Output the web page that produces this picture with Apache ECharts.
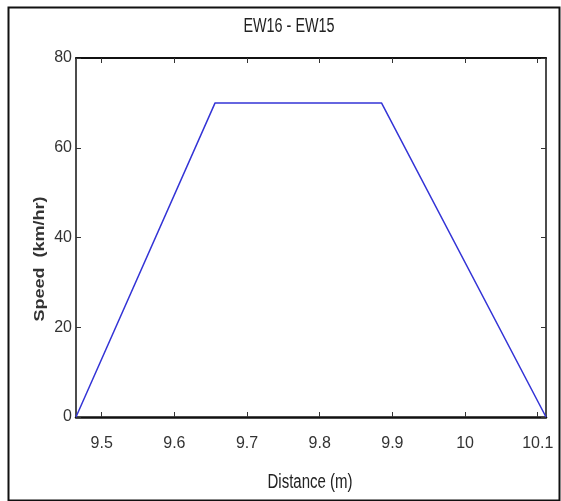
<!DOCTYPE html>
<html>
<head>
<meta charset="utf-8">
<script src="https://cdn.jsdelivr.net/npm/echarts@6/dist/echarts.min.js"></script>
<style>
  html, body { margin: 0; padding: 0; background: #fff; }
  #chart { width: 561px; height: 501px; }
</style>
</head>
<body>
<div id="chart"></div>
<script>
// Speed profile between stations EW16 and EW15
const distance = [9.4646, 9.656, 9.885, 10.1114];
const speed = [0, 70, 70, 0];
const xTicks = [9.5, 9.6, 9.7, 9.8, 9.9, 10.0, 10.1];
const yTicks = [0, 20, 40, 60, 80];

const xMin = 9.4646, xMax = 10.1114, yMin = 0, yMax = 80;
const FONT = '"Liberation Sans", Arial, sans-serif';

const chart = echarts.init(document.getElementById('chart'), null, { renderer: 'canvas' });

function xAx(pos, showLabels) {
  return {
    type: 'value', position: pos, min: xMin, max: xMax,
    axisLine: { show: true, onZero: false, lineStyle: { color: '#111', width: pos === 'bottom' ? 2.5 : 2 } },
    axisTick: { show: true, inside: true, length: 5, customValues: xTicks, lineStyle: { color: '#333', width: 1 } },
    axisLabel: {
      show: showLabels, customValues: xTicks, margin: 19,
      color: '#333', fontFamily: FONT, fontSize: 16,
      formatter: v => String(Math.round(v * 10) / 10)
    },
    splitLine: { show: false }
  };
}
function yAx(pos, showLabels) {
  return {
    type: 'value', position: pos, min: yMin, max: yMax,
    axisLine: { show: true, onZero: false, lineStyle: { color: '#111', width: 1.5 } },
    axisTick: { show: true, inside: true, length: 5, customValues: yTicks, lineStyle: { color: '#333', width: 1 } },
    axisLabel: {
      show: showLabels, customValues: yTicks, margin: 4,
      color: '#333', fontFamily: FONT, fontSize: 16
    },
    splitLine: { show: false }
  };
}

chart.setOption({
  animation: false,
  backgroundColor: '#fff',
  grid: { left: 76, top: 58, right: 15, bottom: 84, containLabel: false },
  xAxis: [xAx('bottom', true), xAx('top', false)],
  yAxis: [yAx('left', true), yAx('right', false)],
  series: [{
    type: 'line',
    xAxisIndex: 0, yAxisIndex: 0,
    data: distance.map((d, i) => [d, speed[i]]),
    symbol: 'none',
    lineStyle: { color: '#3434d6', width: 1.5 }
  }],
  graphic: [
    {
      type: 'rect', left: 6, top: 5, silent: true,
      shape: { width: 551, height: 493 },
      style: { fill: 'none', stroke: '#111', lineWidth: 2 }
    },
    {
      type: 'text', x: 289, y: 26, scaleX: 0.72,
      style: { text: 'EW16 - EW15', fill: '#222', font: '20px ' + FONT, align: 'center', verticalAlign: 'middle' }
    },
    {
      type: 'text', x: 310, y: 482, scaleX: 0.75,
      style: { text: 'Distance (m)', fill: '#222', font: '20px ' + FONT, align: 'center', verticalAlign: 'middle' }
    },
    {
      type: 'text', x: 40, y: 259, rotation: Math.PI / 2, scaleX: 1.2,
      style: { text: 'Speed  (km/hr)', fill: '#333', font: 'bold 15px ' + FONT, align: 'center', verticalAlign: 'middle' }
    }
  ]
});
</script>
</body>
</html>
